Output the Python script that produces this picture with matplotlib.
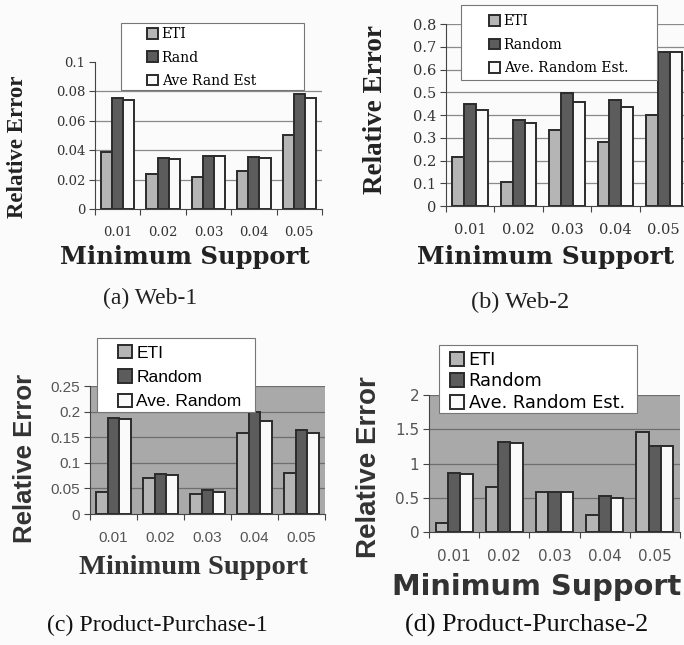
import matplotlib.pyplot as plt
from matplotlib.patches import Rectangle
import numpy as np

# data
supports = ["0.01", "0.02", "0.03", "0.04", "0.05"]

web1_eti = [0.0385, 0.0235, 0.0215, 0.026, 0.0505]
web1_rand = [0.0758, 0.0346, 0.0362, 0.0355, 0.0785]
web1_ave = [0.0740, 0.0340, 0.0362, 0.0345, 0.0755]

web2_eti = [0.216, 0.104, 0.335, 0.280, 0.400]
web2_rand = [0.450, 0.378, 0.495, 0.465, 0.676]
web2_ave = [0.422, 0.366, 0.458, 0.435, 0.676]

pp1_eti = [0.043, 0.071, 0.039, 0.158, 0.081]
pp1_rand = [0.188, 0.079, 0.046, 0.200, 0.164]
pp1_ave = [0.185, 0.076, 0.043, 0.182, 0.158]

pp2_eti = [0.13, 0.66, 0.58, 0.245, 1.455]
pp2_rand = [0.865, 1.31, 0.58, 0.52, 1.26]
pp2_ave = [0.84, 1.295, 0.58, 0.49, 1.26]

W, H = 684, 645
fig = plt.figure(figsize=(W / 100, H / 100), dpi=100)
fig.patch.set_facecolor("#fbfbfb")

SERIF = "Liberation Serif"
WIDE_SERIF = "DejaVu Serif"
SANS = "Liberation Sans"
WIDE_SANS = "DejaVu Sans"

c_eti = "#b5b5b5"
c_rand = "#5c5c5c"
c_ave = "#fafafa"
edge = "#2b2b2b"


def px_axes(x0, y0, x1, y1):
    # pixel box (top-left origin) -> figure axes
    return fig.add_axes([x0 / W, 1 - y1 / H, (x1 - x0) / W, (y1 - y0) / H])


def px(x, y):
    return x / W, 1 - y / H


def panel(ax, eti, rand, ave, ymax, ystep, yfmt, gray, tick_font, tick_size,
          tick_color, tick_pad, top_grid=True):
    x = np.arange(len(supports))
    bw = 0.245
    b1 = ax.bar(x - bw, eti, bw, color=c_eti, edgecolor=edge, linewidth=1.4)
    b2 = ax.bar(x, rand, bw, color=c_rand, edgecolor=edge, linewidth=1.4)
    b3 = ax.bar(x + bw, ave, bw, color=c_ave, edgecolor=edge, linewidth=1.4)
    ax.set_xlim(-0.5, len(supports) - 0.5)
    ax.set_ylim(0, ymax)
    yt = np.arange(0, ymax + ystep / 2, ystep)
    ax.set_yticks(yt)
    ax.set_yticklabels([yfmt(v) for v in yt], fontfamily=tick_font, fontsize=tick_size,
                       color=tick_color)
    ax.set_xticks(np.arange(-0.5, len(supports)))
    ax.set_xticklabels([])
    ax.set_xticks(x, minor=True)
    ax.set_xticklabels(supports, minor=True, fontfamily=tick_font, fontsize=tick_size,
                       color=tick_color)
    ax.tick_params(axis="x", which="minor", length=0, pad=tick_pad)
    ax.tick_params(axis="x", which="major", length=4, direction="out", color="#444")
    ax.tick_params(axis="y", length=4, direction="out", color="#444", pad=3)
    ax.set_axisbelow(True)
    gcol = "#6e6e6e" if gray else "#8a8a8a"
    for v in yt[1:] if top_grid else yt[1:-1]:
        ax.axhline(v, color=gcol, linewidth=0.9, zorder=0.5)
    ax.set_facecolor("#a9a9a9" if gray else "none")
    for s in ["top", "right"]:
        ax.spines[s].set_visible(False)
    ax.spines["left"].set_color("#444")
    ax.spines["bottom"].set_color("#444")
    return [b1, b2, b3]


def legend(ax, handles, labels, box, hx, row1, font, size, spacing):
    x0, y0, x1, y1 = box
    bx, by = px(x0, y1)
    ax.add_patch(Rectangle((bx, by), (x1 - x0) / W, (y1 - y0) / H,
                           transform=fig.transFigure, facecolor="white",
                           edgecolor="#777777", linewidth=0.8, zorder=9, clip_on=False))
    top = row1 - size * 100 / 72 * 0.4
    leg = ax.legend(handles, labels, loc="upper left", bbox_to_anchor=px(hx, top),
                    bbox_transform=fig.transFigure, frameon=False,
                    prop={"family": font, "size": size}, handlelength=0.8,
                    handleheight=0.8, handletextpad=0.25, labelspacing=spacing,
                    borderpad=0, borderaxespad=0)
    leg.set_zorder(10)
    return leg


# (a) Web-1
ax_a = px_axes(95, 62, 322, 209)
h = panel(ax_a, web1_eti, web1_rand, web1_ave, 0.1, 0.02,
          lambda v: "0" if v == 0 else f"{v:g}", False, WIDE_SERIF, 9.5, "#333", 12,
          top_grid=False)
legend(ax_a, h, ["ETI", "Rand", "Ave Rand Est"], (121, 23, 304, 90), 147, 33,
       WIDE_SERIF, 10, 0.66)
fig.text(*px(18, 147), "Relative Error", rotation=90, ha="center", va="center",
         family=SERIF, weight="bold", fontsize=16.5, color="#222")
fig.text(*px(185, 257), "Minimum Support", ha="center", va="center",
         family=WIDE_SERIF, weight="bold", fontsize=17.5, color="#222")
fig.text(*px(150, 298), "(a) Web-1", ha="center", va="center",
         family=SERIF, fontsize=17, color="#222")

# (b) Web-2
ax_b = px_axes(446, 24, 688, 206)
h = panel(ax_b, web2_eti, web2_rand, web2_ave, 0.8, 0.1,
          lambda v: "0" if v == 0 else f"{v:.1f}", False, WIDE_SERIF, 10.5, "#333", 12)
legend(ax_b, h, ["ETI", "Random", "Ave. Random Est."], (461, 5, 657, 80), 489, 20,
       WIDE_SERIF, 10, 0.68)
fig.text(*px(375, 110), "Relative Error", rotation=90, ha="center", va="center",
         family=SERIF, weight="bold", fontsize=19.5, color="#222")
fig.text(*px(546, 257), "Minimum Support", ha="center", va="center",
         family=WIDE_SERIF, weight="bold", fontsize=18, color="#222")
fig.text(*px(520, 302), "(b) Web-2", ha="center", va="center",
         family=SERIF, fontsize=17.5, color="#222")

# (c) Product-Purchase-1
ax_c = px_axes(90, 386, 325, 514)
h = panel(ax_c, pp1_eti, pp1_rand, pp1_ave, 0.25, 0.05,
          lambda v: "0" if v == 0 else f"{v:g}", True, SANS, 11, "#555", 12)
legend(ax_c, h, ["ETI", "Random", "Ave. Random"], (97, 338, 255, 412), 118, 352,
       SANS, 12.5, 0.5)
fig.text(*px(25, 458), "Relative Error", rotation=90, ha="center", va="center",
         family=SANS, weight="bold", fontsize=18.5, color="#333")
fig.text(*px(193, 567), "Minimum Support", ha="center", va="center",
         family=SERIF, weight="bold", fontsize=20.5, color="#333")
fig.text(*px(157, 625), "(c) Product-Purchase-1", ha="center", va="center",
         family=SERIF, fontsize=17.2, color="#111")

# (d) Product-Purchase-2
ax_d = px_axes(429, 395, 680, 532)
h = panel(ax_d, pp2_eti, pp2_rand, pp2_ave, 2, 0.5,
          lambda v: f"{v:g}", True, WIDE_SANS, 11, "#555", 12)
legend(ax_d, h, ["ETI", "Random", "Ave. Random Est."], (439, 345, 637, 413), 450, 358,
       WIDE_SANS, 12.8, 0.2)
fig.text(*px(369, 467), "Relative Error", rotation=90, ha="center", va="center",
         family=SANS, weight="bold", fontsize=20, color="#333")
fig.text(*px(537, 587), "Minimum Support", ha="center", va="center",
         family=WIDE_SANS, weight="bold", fontsize=20.8, color="#333")
fig.text(*px(527, 625), "(d) Product-Purchase-2", ha="center", va="center",
         family=SERIF, fontsize=18.8, color="#111")

fig.savefig("out.png", dpi=100, facecolor=fig.get_facecolor())
